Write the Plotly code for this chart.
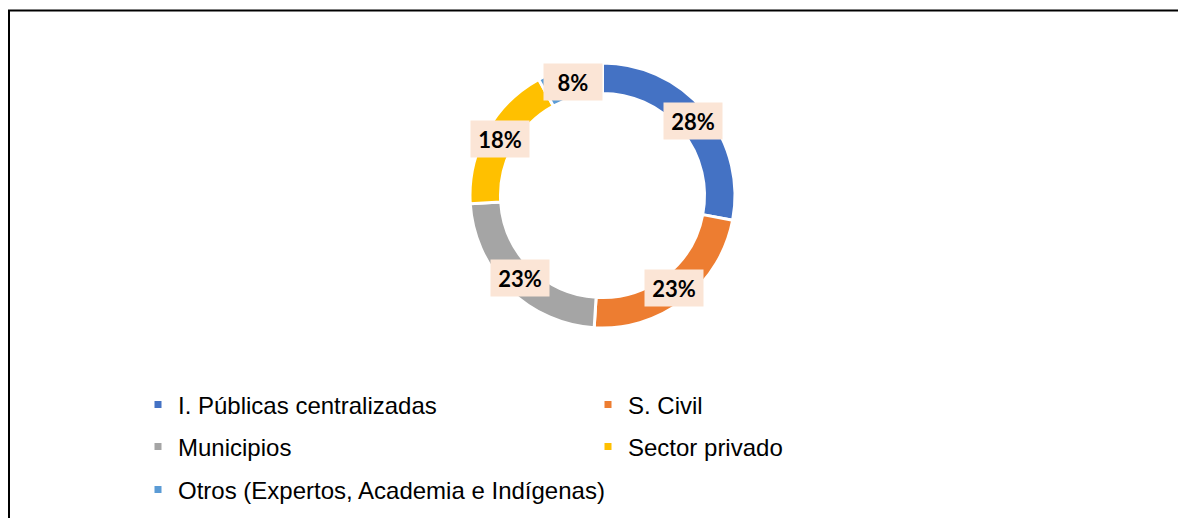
import math
import plotly.graph_objects as go

categories = ["I. Públicas centralizadas", "S. Civil", "Municipios", "Sector privado",
              "Otros (Expertos, Academia e Indígenas)"]
values = [28, 23, 23, 18, 8]
colors = ["#4472C4", "#ED7D31", "#A5A5A5", "#FFC000", "#5B9BD5"]
legend_rows = ["legend", "legend", "legend2", "legend2", "legend3"]

W, H = 1186, 518
OFF = 8  # page body margin
cx, cy, R = 602.5 - OFF, 195.5 - OFF, 132.5
label_r = 117

fig = go.Figure()
fig.add_trace(go.Pie(
    labels=categories, values=values, sort=False, direction="clockwise", rotation=0,
    hole=0.77, marker=dict(colors=colors, line=dict(color="white", width=3)),
    textinfo="none", hoverinfo="label+percent", showlegend=False,
    domain=dict(x=[(cx - R) / W, (cx + R) / W], y=[1 - (cy + R) / H, 1 - (cy - R) / H]),
))

for name, col, lg in zip(categories, colors, legend_rows):
    fig.add_trace(go.Scatter(x=[None], y=[None], mode="markers", name=name,
                             marker=dict(symbol="square", size=7, color=col),
                             legend=lg, hoverinfo="skip"))

total = sum(values)
cum = 0
for v in values:
    mid = (cum + v / 2) / total * 2 * math.pi
    cum += v
    px = cx + label_r * math.sin(mid)
    py = cy - label_r * math.cos(mid)
    fig.add_annotation(x=px / W, y=1 - py / H, xref="paper", yref="paper",
                       text=f"<b>{round(v / total * 100)}%</b>", showarrow=False,
                       font=dict(family="Lato", size=22, color="black"),
                       bgcolor="#FBE5D6", width=58, height=36, borderpad=0,
                       xanchor="center", yanchor="middle")

legend_common = dict(orientation="h", xanchor="left", yanchor="middle",
                     font=dict(family="Liberation Sans", size=24, color="black"),
                     bgcolor="rgba(0,0,0,0)", itemclick=False, itemdoubleclick=False)

lx = 157 - 19 - OFF
fig.update_layout(
    width=W, height=H, margin=dict(l=0, r=0, t=0, b=0),
    paper_bgcolor="white", plot_bgcolor="white",
    xaxis=dict(visible=False), yaxis=dict(visible=False),
    legend=dict(x=lx / W, y=1 - (405 - OFF) / H, entrywidth=405, entrywidthmode="pixels",
                **legend_common),
    legend2=dict(x=lx / W, y=1 - (447 - OFF) / H, entrywidth=405, entrywidthmode="pixels",
                 **legend_common),
    legend3=dict(x=lx / W, y=1 - (490 - OFF) / H, **legend_common),
    shapes=[dict(type="rect", xref="paper", yref="paper",
                 x0=1 / W, x1=1.2, y0=-0.2, y1=1 - 2.5 / H,
                 line=dict(color="black", width=2), fillcolor="rgba(0,0,0,0)")],
)

fig.write_html("out.html")
